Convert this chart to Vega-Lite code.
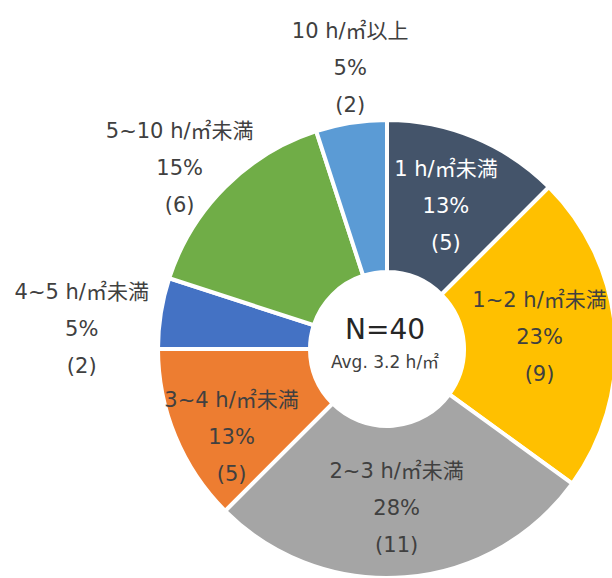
{
  "$schema": "https://vega.github.io/schema/vega-lite/v6.json",
  "width": 612,
  "height": 578,
  "autosize": "none",
  "padding": 0,
  "background": "white",
  "config": {"view": {"stroke": null}, "text": {"font": "DejaVu Sans, Noto Sans CJK JP", "fontSize": 21, "lineHeight": 37}},
  "data": {
    "values": [
      {"category": "1 h/㎡未満", "count": 5, "pct": "13%", "order": 1},
      {"category": "1~2 h/㎡未満", "count": 9, "pct": "23%", "order": 2},
      {"category": "2~3 h/㎡未満", "count": 11, "pct": "28%", "order": 3},
      {"category": "3~4 h/㎡未満", "count": 5, "pct": "13%", "order": 4},
      {"category": "4~5 h/㎡未満", "count": 2, "pct": "5%", "order": 5},
      {"category": "5~10 h/㎡未満", "count": 6, "pct": "15%", "order": 6},
      {"category": "10 h/㎡以上", "count": 2, "pct": "5%", "order": 7}
    ]
  },
  "transform": [
    {"calculate": "[datum.category, datum.pct, '(' + datum.count + ')']", "as": "label"}
  ],
  "layer": [
    {
      "encoding": {
        "theta": {"field": "count", "type": "quantitative", "stack": true, "scale": {"domain": [0, 40]}},
        "order": {"field": "order", "type": "quantitative"},
        "color": {
          "field": "category", "type": "nominal", "legend": null,
          "scale": {
            "domain": ["1 h/㎡未満", "1~2 h/㎡未満", "2~3 h/㎡未満", "3~4 h/㎡未満", "4~5 h/㎡未満", "5~10 h/㎡未満", "10 h/㎡以上"],
            "range": ["#44546A", "#FFC000", "#A5A5A5", "#ED7D31", "#4472C4", "#70AD47", "#5B9BD5"]
          }
        }
      },
      "layer": [
        {"mark": {"type": "arc", "x": 387, "y": 349, "innerRadius": 77, "outerRadius": 229, "stroke": "white", "strokeWidth": 4}},
        {
          "mark": {"type": "text", "x": 387, "y": 349, "radius": 154, "dx": 0, "dy": -37},
          "encoding": {"color": {"value": "#FFFFFF"}, "detail": {"field": "category"}, "text": {"condition": {"test": "datum.order === 1", "field": "label"}, "value": ""}}
        },
        {
          "mark": {"type": "text", "x": 387, "y": 349, "radius": 156, "dx": -3, "dy": -36},
          "encoding": {"color": {"value": "#404040"}, "detail": {"field": "category"}, "text": {"condition": {"test": "datum.order === 2", "field": "label"}, "value": ""}}
        },
        {
          "mark": {"type": "text", "x": 387, "y": 349, "radius": 161, "dx": -3, "dy": -38},
          "encoding": {"color": {"value": "#404040"}, "detail": {"field": "category"}, "text": {"condition": {"test": "datum.order === 3", "field": "label"}, "value": ""}}
        },
        {
          "mark": {"type": "text", "x": 387, "y": 349, "radius": 165, "dx": -3, "dy": -11},
          "encoding": {"color": {"value": "#404040"}, "detail": {"field": "category"}, "text": {"condition": {"test": "datum.order === 4", "field": "label"}, "value": ""}}
        },
        {
          "mark": {"type": "text", "x": 387, "y": 349, "radius": 304, "dx": -5, "dy": -8},
          "encoding": {"color": {"value": "#404040"}, "detail": {"field": "category"}, "text": {"condition": {"test": "datum.order === 5", "field": "label"}, "value": ""}}
        },
        {
          "mark": {"type": "text", "x": 387, "y": 349, "radius": 272, "dx": -15, "dy": -25},
          "encoding": {"color": {"value": "#404040"}, "detail": {"field": "category"}, "text": {"condition": {"test": "datum.order === 6", "field": "label"}, "value": ""}}
        },
        {
          "mark": {"type": "text", "x": 387, "y": 349, "radius": 280, "dx": 7, "dy": -40},
          "encoding": {"color": {"value": "#404040"}, "detail": {"field": "category"}, "text": {"condition": {"test": "datum.order === 7", "field": "label"}, "value": ""}}
        }
      ]
    },
    {
      "data": {"values": [{"t": "N=40"}]},
      "mark": {"type": "text", "x": 385, "y": 331, "fontSize": 28, "color": "#262626"},
      "encoding": {"text": {"field": "t"}}
    },
    {
      "data": {"values": [{"t": "Avg. 3.2 h/㎡"}]},
      "mark": {"type": "text", "x": 385, "y": 363, "fontSize": 17, "color": "#404040"},
      "encoding": {"text": {"field": "t"}}
    }
  ]
}
